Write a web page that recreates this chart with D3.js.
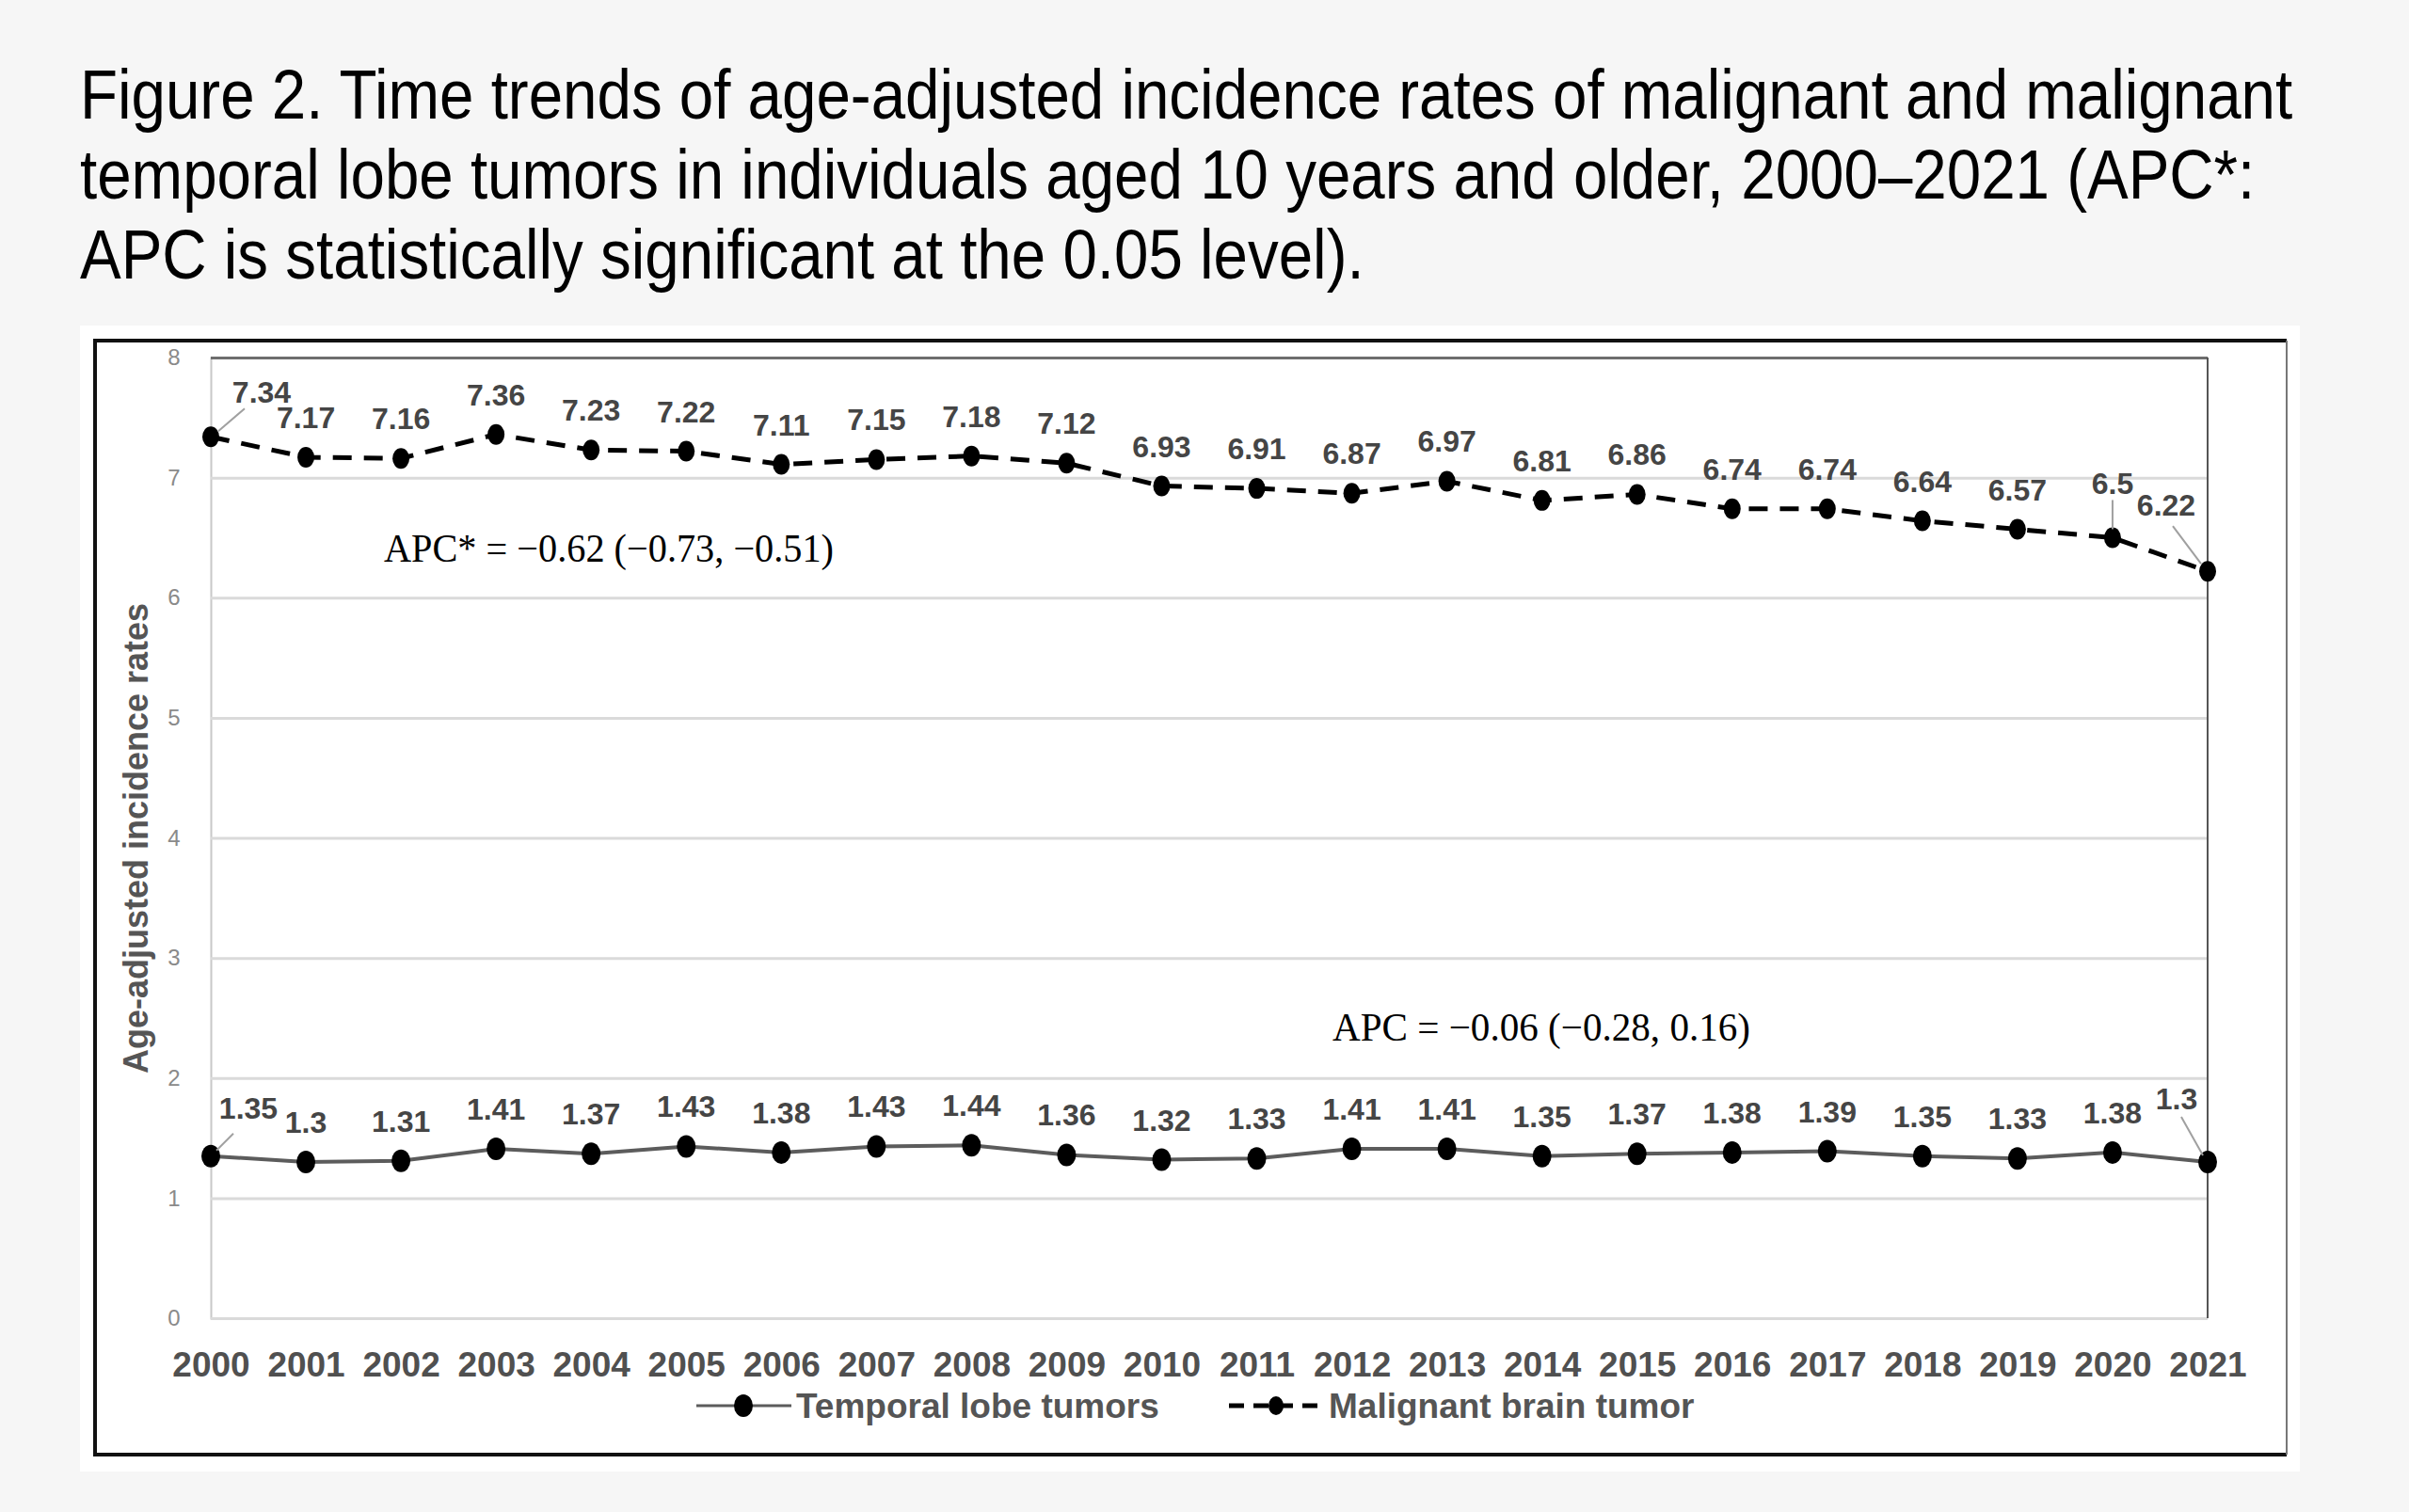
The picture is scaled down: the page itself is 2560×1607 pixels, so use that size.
<!DOCTYPE html>
<html>
<head>
<meta charset="utf-8">
<script src="https://cdn.jsdelivr.net/npm/d3@7"></script>
<style>
  html, body { margin: 0; padding: 0; background: #f6f6f6; }
  svg { display: block; }
</style>
</head>
<body>
<script>
const years = ["2000","2001","2002","2003","2004","2005","2006","2007","2008","2009","2010",
  "2011","2012","2013","2014","2015","2016","2017","2018","2019","2020","2021"];
const temporalLobe = [1.35,1.3,1.31,1.41,1.37,1.43,1.38,1.43,1.44,1.36,1.32,
  1.33,1.41,1.41,1.35,1.37,1.38,1.39,1.35,1.33,1.38,1.3];
const malignantBrain = [7.34,7.17,7.16,7.36,7.23,7.22,7.11,7.15,7.18,7.12,6.93,
  6.91,6.87,6.97,6.81,6.86,6.74,6.74,6.64,6.57,6.5,6.22];
const yTicks = [0,1,2,3,4,5,6,7,8];
const seriesNames = ["Temporal lobe tumors", "Malignant brain tumor"];
const titleLines = [
  "Figure 2. Time trends of age-adjusted incidence rates of malignant and malignant",
  "temporal lobe tumors in individuals aged 10 years and older, 2000\u20132021 (APC*:",
  "APC is statistically significant at the 0.05 level)."
];
const apcLabels = [
  "APC* = \u22120.62 (\u22120.73, \u22120.51)",
  "APC = \u22120.06 (\u22120.28, 0.16)"
];

const width = 2560, height = 1607;

const svg = d3.select('body')
  .append('svg')
  .attr('width', width)
  .attr('height', height);

svg.append('rect')
  .attr('width', width).attr('height', height)
  .attr('fill', '#f6f6f6');

// title: the original face is a narrow Arial, so squeeze it sideways
const titleG = svg.append('g')
  .attr('transform', 'translate(85,0) scale(0.885,1)');
titleG.selectAll('text')
  .data(titleLines)
  .enter()
  .append('text')
  .text(d => d)
  .attr('x', 0)
  .attr('y', (d, i) => 126 + i * 85)
  .attr('font-family', "'Liberation Sans', Arial, sans-serif")
  .attr('font-size', 74)
  .attr('fill', '#000');

// white panel + frame
svg.append('rect')
  .attr('x', 85).attr('y', 346).attr('width', 2359).attr('height', 1218)
  .attr('fill', '#fff');
svg.append('path')
  .attr('d', 'M2430,362 H101 V1546 H2430')
  .attr('fill', 'none').attr('stroke', '#111').attr('stroke-width', 4);
svg.append('line')
  .attr('x1', 2430).attr('x2', 2430).attr('y1', 362).attr('y2', 1546)
  .attr('stroke', '#777').attr('stroke-width', 2);

const x = d3.scalePoint()
  .domain(years)
  .range([224, 2346]);

const y = d3.scaleLinear()
  .domain([0, 8])
  .range([1401, 380]);

// gridlines
const yAxis = d3.axisLeft(y)
  .tickValues(yTicks)
  .tickSize(-(2346 - 224))
  .tickFormat(d3.format('d'));

const yg = svg.append('g')
  .attr('transform', 'translate(224,0)')
  .call(yAxis);
yg.select('.domain').attr('stroke', '#c8c8c8').attr('stroke-width', 2);
yg.selectAll('.tick line')
  .attr('stroke', d => d === 8 ? '#6e6e6e' : '#dadada')
  .attr('stroke-width', 3);
yg.selectAll('.tick text')
  .attr('x', -39)
  .attr('text-anchor', 'middle')
  .attr('font-family', "'Liberation Sans', sans-serif")
  .attr('font-size', 24)
  .attr('fill', '#8a8a8a');

// right border of plot area
svg.append('line')
  .attr('x1', x('2021')).attr('x2', x('2021'))
  .attr('y1', y(8)).attr('y2', y(0))
  .attr('stroke', '#555').attr('stroke-width', 2);

// x axis labels
const xAxis = d3.axisBottom(x).tickSize(0).tickPadding(0);
const xg = svg.append('g')
  .attr('transform', 'translate(0,1438)')
  .call(xAxis);
xg.select('.domain').remove();
xg.selectAll('.tick text')
  .attr('dy', '0.35em')
  .attr('y', 12)
  .attr('font-family', "'Liberation Sans', sans-serif")
  .attr('font-weight', 'bold')
  .attr('font-size', 37)
  .attr('fill', '#505050');

// y axis title
svg.append('text')
  .text('Age-adjusted incidence rates')
  .attr('transform', 'translate(144,891) rotate(-90)')
  .attr('text-anchor', 'middle')
  .attr('dominant-baseline', 'central')
  .attr('font-family', "'Liberation Sans', sans-serif")
  .attr('font-weight', 'bold')
  .attr('font-size', 36)
  .attr('fill', '#555');

const line = d3.line()
  .x((d, i) => x(years[i]))
  .y(d => y(d));

// temporal lobe series (solid)
svg.append('path')
  .datum(temporalLobe)
  .attr('d', line)
  .attr('fill', 'none')
  .attr('stroke', '#5c5c5c')
  .attr('stroke-width', 4);

svg.selectAll('.dot-t')
  .data(temporalLobe)
  .enter()
  .append('ellipse')
  .attr('class', 'dot-t')
  .attr('cx', (d, i) => x(years[i]))
  .attr('cy', d => y(d))
  .attr('rx', 10).attr('ry', 12)
  .attr('fill', '#000');

// malignant series (dashed)
svg.append('path')
  .datum(malignantBrain)
  .attr('d', line)
  .attr('fill', 'none')
  .attr('stroke', '#000')
  .attr('stroke-width', 5)
  .attr('stroke-dasharray', '20,13');

svg.selectAll('.dot-m')
  .data(malignantBrain)
  .enter()
  .append('ellipse')
  .attr('class', 'dot-m')
  .attr('cx', (d, i) => x(years[i]))
  .attr('cy', d => y(d))
  .attr('rx', 9).attr('ry', 11)
  .attr('fill', '#000');

// data labels, a few are moved off their point with a leader line
const moved = {
  m0: { dx: 54, dy: -47, lead: [8, -6, 36, -30] },
  m20: { dx: 0, dy: -57, lead: [0, -9, 0, -40] },
  m21: { dx: -44, dy: -70, lead: [-7, -8, -37, -48] },
  t0: { dx: 40, dy: -51, lead: [6, -6, 24, -24] },
  t21: { dx: -33, dy: -67, lead: [-5, -7, -28, -48] }
};

function drawLabels(values, key) {
  values.forEach((v, i) => {
    const px = x(years[i]), py = y(v);
    const m = moved[key + i];
    if (m) {
      svg.append('line')
        .attr('x1', px + m.lead[0]).attr('y1', py + m.lead[1])
        .attr('x2', px + m.lead[2]).attr('y2', py + m.lead[3])
        .attr('stroke', '#a0a0a0').attr('stroke-width', 2);
    }
    svg.append('text')
      .text(v)
      .attr('x', px + (m ? m.dx : 0))
      .attr('y', py + (m ? m.dy : -42))
      .attr('text-anchor', 'middle')
      .attr('dominant-baseline', 'central')
      .attr('font-family', "'Liberation Sans', sans-serif")
      .attr('font-weight', 'bold')
      .attr('font-size', 32)
      .attr('fill', '#454545');
  });
}
drawLabels(malignantBrain, 'm');
drawLabels(temporalLobe, 't');

// APC annotations
const apcPos = [[647, 6.41, 478], [1638, 2.42, 444]];
svg.selectAll('.apc')
  .data(apcLabels)
  .enter()
  .append('text')
  .attr('class', 'apc')
  .text(d => d)
  .attr('x', (d, i) => apcPos[i][0])
  .attr('y', (d, i) => y(apcPos[i][1]))
  .attr('textLength', (d, i) => apcPos[i][2])
  .attr('lengthAdjust', 'spacingAndGlyphs')
  .attr('text-anchor', 'middle')
  .attr('dominant-baseline', 'central')
  .attr('font-family', "'Liberation Serif', 'Times New Roman', serif")
  .attr('font-size', 42)
  .attr('fill', '#000');

// legend
const legendItems = [
  { name: seriesNames[0], x0: 740, dash: null, w: 3, col: '#5c5c5c', r: 10 },
  { name: seriesNames[1], x0: 1306, dash: '16,10', w: 5, col: '#000', r: 8 }
];
const lg = svg.append('g').attr('transform', 'translate(0,1494)');
legendItems.forEach(it => {
  lg.append('line')
    .attr('x1', it.x0).attr('x2', it.x0 + 101)
    .attr('y1', 0).attr('y2', 0)
    .attr('stroke', it.col).attr('stroke-width', it.w)
    .attr('stroke-dasharray', it.dash);
  lg.append('ellipse')
    .attr('cx', it.x0 + 50).attr('cy', 0)
    .attr('rx', it.r).attr('ry', it.r + 2)
    .attr('fill', '#000');
  lg.append('text')
    .text(it.name)
    .attr('x', it.x0 + 106).attr('y', 0)
    .attr('dominant-baseline', 'central')
    .attr('font-family', "'Liberation Sans', sans-serif")
    .attr('font-weight', 'bold')
    .attr('font-size', 37)
    .attr('fill', '#555');
});
</script>
</body>
</html>
